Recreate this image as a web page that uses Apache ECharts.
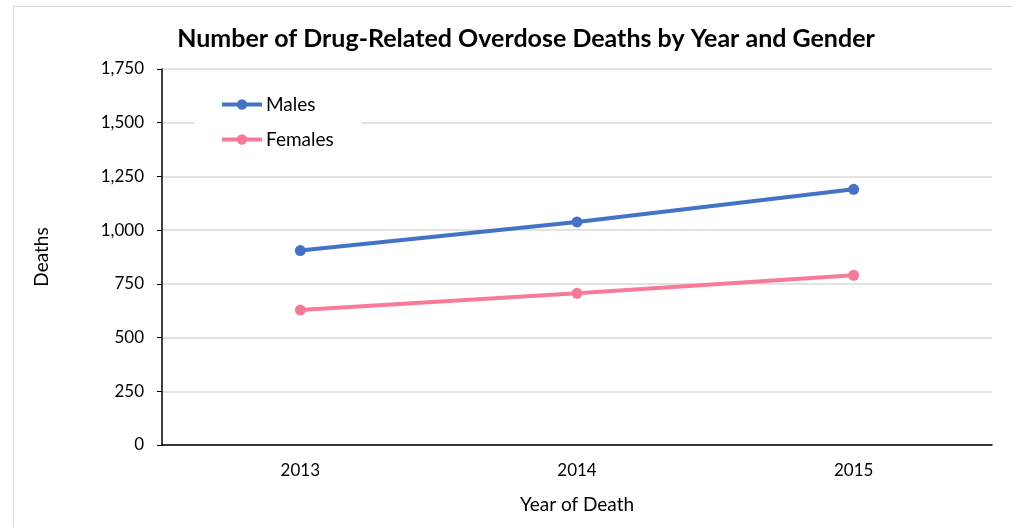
<!DOCTYPE html>
<html>
<head>
<meta charset="utf-8">
<title>Overdose deaths by year and gender</title>
<script src="https://cdn.jsdelivr.net/npm/echarts@6/dist/echarts.min.js"></script>
<style>
  html, body { margin: 0; padding: 0; background: #fff; }
  #chart { width: 1012px; height: 527px; }
</style>
</head>
<body>
<div id="chart"></div>
<script>
// data
const years = ['2013', '2014', '2015']
const males = [905, 1038, 1190]
const females = [628, 706, 790]
const yTicks = [0, 250, 500, 750, 1000, 1250, 1500, 1750]

const font = 'Lato, "Open Sans", sans-serif'
const blue = '#4472c4'
const pink = '#f77b99'

const chart = echarts.init(document.getElementById('chart'))

const options = {
  animation: false,
  textStyle: { fontFamily: font },
  title: {
    text: 'Number of Drug-Related Overdose Deaths by Year and Gender',
    left: 521,
    top: 21,
    textAlign: 'center',
    textStyle: { fontSize: 25, fontWeight: 'bold', color: '#000', fontFamily: font },
  },
  // light frame around the chart area, like the original
  graphic: [
    {
      type: 'rect',
      shape: { x: 13.5, y: 6.5, width: 1100, height: 600 },
      style: { fill: 'none', stroke: '#d9d9d9', lineWidth: 1 },
      silent: true,
      z: -1,
    },
  ],
  grid: {
    left: 162,
    top: 69,
    width: 830,
    height: 376,
  },
  legend: {
    orient: 'vertical',
    left: 194,
    top: 93,
    itemGap: 16,
    itemWidth: 40,
    itemHeight: 13,
    padding: [2, 27, 4, 26],
    backgroundColor: '#fff',
    lineStyle: { width: 4 },
    textStyle: { fontSize: 19, color: '#000', fontFamily: font, padding: [0, 0, 0, -1] },
    data: ['Males', 'Females'],
  },
  xAxis: {
    type: 'category',
    data: years,
    name: 'Year of Death',
    nameLocation: 'middle',
    nameGap: 50,
    nameTextStyle: { fontSize: 19, color: '#000' },
    axisLine: { lineStyle: { color: '#000', width: 1.5 } },
    axisTick: { alignWithLabel: true, length: 6, lineStyle: { color: '#000' } },
    axisLabel: { fontSize: 17, color: '#000', margin: 17 },
    splitLine: { show: false },
  },
  yAxis: {
    type: 'value',
    min: yTicks[0],
    max: yTicks[yTicks.length - 1],
    interval: 250,
    name: 'Deaths',
    nameLocation: 'middle',
    nameGap: 111,
    nameTextStyle: { fontSize: 19, color: '#000' },
    axisLine: { show: true, lineStyle: { color: '#000', width: 1.5 } },
    axisTick: { show: true, length: 5, lineStyle: { color: '#000' } },
    axisLabel: {
      fontSize: 17,
      color: '#000',
      margin: 18,
      formatter: (v) => v.toLocaleString('en-US'),
    },
    splitLine: { lineStyle: { color: '#d9d9d9', width: 1.5 } },
  },
  series: [
    {
      name: 'Males',
      type: 'line',
      data: males,
      symbol: 'circle',
      symbolSize: 11,
      lineStyle: { color: blue, width: 4 },
      itemStyle: { color: blue },
    },
    {
      name: 'Females',
      type: 'line',
      data: females,
      symbol: 'circle',
      symbolSize: 11,
      lineStyle: { color: pink, width: 4 },
      itemStyle: { color: pink },
    },
  ],
}

chart.setOption(options)
</script>
</body>
</html>
